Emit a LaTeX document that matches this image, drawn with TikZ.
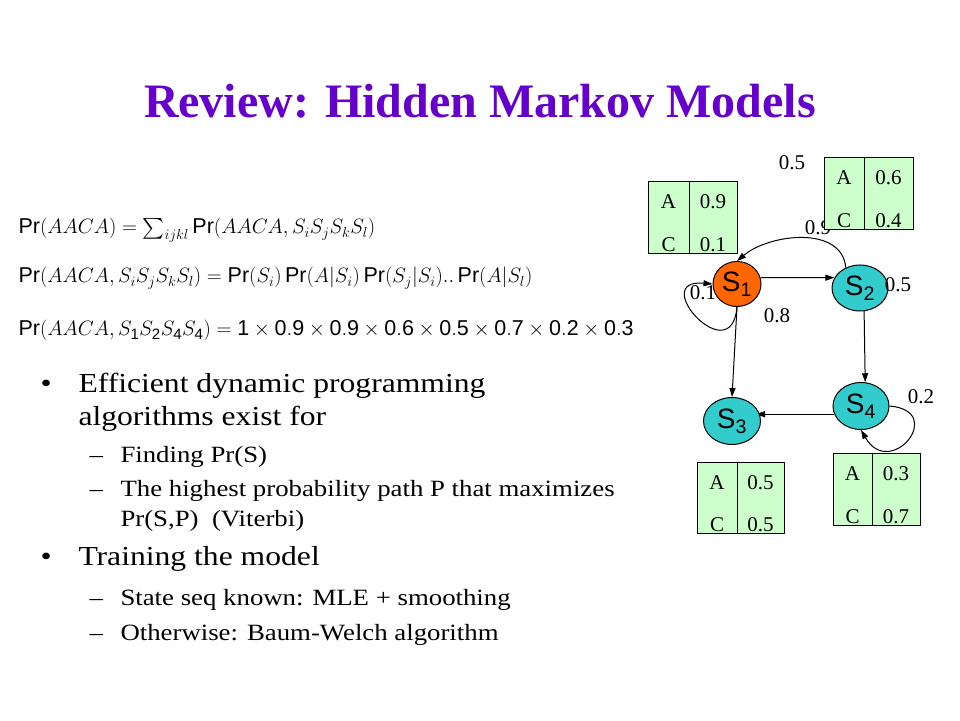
\documentclass[tikz,border=0pt]{standalone}
\usepackage{amsmath}
\usepackage{fontspec}
\setmainfont{Liberation Serif}
\setsansfont{Liberation Sans}
\newfontfamily\bodyfont[FakeStretch=1.15]{Liberation Serif}
\usetikzlibrary{shapes.geometric,backgrounds,arrows.meta}
\definecolor{titlepurple}{HTML}{6600CC}
\definecolor{stateorange}{HTML}{FF6600}
\definecolor{statecyan}{HTML}{33CCCC}
\definecolor{emitgreen}{HTML}{CCFFCC}

\begin{document}
\begin{tikzpicture}[x=1pt, y=1pt, >={Triangle[length=9pt,width=6pt]},
    state/.style={ellipse, draw=black, line width=1pt, inner sep=0pt, font=\sffamily\fontsize{28}{28}\selectfont},
    prob/.style={inner sep=0pt, font=\fontsize{21}{21}\selectfont},
    emission/.style={fill=emitgreen, draw=black, line width=1pt},
    formula/.style={anchor=base west, inner sep=0pt, font=\fontsize{21.5}{24}\selectfont},
    mainitem/.style={anchor=base west, inner sep=0pt, font=\bodyfont\fontsize{27.5}{30}\selectfont},
    subitem/.style={anchor=base west, inner sep=0pt, font=\bodyfont\fontsize{23.3}{26}\selectfont},
    every path/.style={line width=1pt}]
    \path[use as bounding box] (0,0) rectangle (960,720);

    \node[anchor=base, inner sep=0pt, text=titlepurple, font=\bfseries\fontsize{48}{48}\selectfont] (title) at (480,602) {Review: Hidden Markov Models};

    % formulas
    \node[formula] (f1) at (18,486) {$\mathsf{Pr}(AACA) = \sum_{ijkl}\mathsf{Pr}(AACA, S_iS_jS_kS_l)$};
    \node[formula] (f2) at (18,437) {$\mathsf{Pr}(AACA, S_iS_jS_kS_l) = \mathsf{Pr}(S_i)\,\mathsf{Pr}(A|S_i)\,\mathsf{Pr}(S_j|S_i)..\,\mathsf{Pr}(A|S_l)$};
    \node[formula] (f3) at (18,384) {$\mathsf{Pr}(AACA, S_{\mathsf{1}}S_{\mathsf{2}}S_{\mathsf{4}}S_{\mathsf{4}}) = \mathsf{1}\times\mathsf{0.9}\times\mathsf{0.9}\times\mathsf{0.6}\times\mathsf{0.5}\times\mathsf{0.7}\times\mathsf{0.2}\times\mathsf{0.3}$};

    % bullets
    \node[mainitem] (dot1) at (40,327) {\textbullet};
    \node[mainitem] (b1) at (78,327) {Efficient dynamic programming};
    \node[mainitem] (b1x) at (78,294) {algorithms exist for};
    \node[subitem] (dash1) at (89,257) {–};
    \node[subitem] (s1t) at (120,257) {Finding Pr(S)};
    \node[subitem] (dash2) at (89,223) {–};
    \node[subitem] (s2t) at (120,223) {The highest probability path P that maximizes};
    \node[subitem] (s2x) at (120,193) {Pr(S,P) \ (Viterbi)};
    \node[mainitem] (dot2) at (40,154) {\textbullet};
    \node[mainitem] (b2) at (78,154) {Training the model};
    \node[subitem] (dash3) at (89,115) {–};
    \node[subitem] (s3t) at (120,115) {State seq known: MLE + smoothing};
    \node[subitem] (dash4) at (89,80) {–};
    \node[subitem] (s4t) at (120,80) {Otherwise: Baum-Welch algorithm};

    % states
    \node[state, fill=stateorange, minimum width=48, minimum height=45] (s1) at (737,436) {S\textsubscript{1}};
    \node[state, fill=statecyan, minimum width=56, minimum height=46] (s2) at (860,432) {S\textsubscript{2}};
    \node[state, fill=statecyan, minimum width=57, minimum height=47] (s3) at (732,299) {S\textsubscript{3}};
    \node[state, fill=statecyan, minimum width=56, minimum height=47] (s4) at (861,314) {S\textsubscript{4}};

    \begin{scope}[on background layer]
        \fill[white] (0,0) rectangle (960,720);
        \node[prob] (p11) at (703,427) {0.1};
        \path (s1.15) edge[->] (s2.158);
        \path (s2.125) edge[->, out=95, in=40] (s1.north);
        \path (s1.south) edge[->, out=-95, in=175, looseness=5] (s1.west);
        \path (s1.south) edge[->] (s3.north);
        \path (s2.-80) edge[->] (s4.80);
        \path (s4.197) edge[->, shorten >=24pt] (s3.center |- s4.197);
        \path (s4.east) edge[->, out=-5, in=-60, looseness=4] (s4.south);
    \end{scope}

    \node[prob] (p21) at (818,492) {0.9};
    \node[prob] (p0) at (792,557) {0.5};

    % emission tables
    \foreach \nm/\xl/\xm/\xr/\yb/\yt/\pa/\pc in {e1/648/689/737/466/538/0.9/0.1, e2/824/864/913/490/562/0.6/0.4, e3/697/737/784/186/257/0.5/0.5, e4/833/872/920/194/266/0.3/0.7}{
        \draw[emission] (\xl,\yb) rectangle (\xr,\yt);
        \draw (\xm,\yb) -- (\xm,\yt);
        \node[prob] (\nm a) at ({(\xl+\xm)/2},\yt-20) {A};
        \node[prob] (\nm c) at ({(\xl+\xm)/2},\yb+9) {C};
        \node[prob] (\nm pa) at ({(\xm+\xr)/2},\yt-20) {\pa};
        \node[prob] (\nm pc) at ({(\xm+\xr)/2},\yb+9) {\pc};
    }

    \node[prob] (p24) at (898,435) {0.5};
    \node[prob] (p13) at (777,404) {0.8};
    \node[prob] (p44) at (921,323) {0.2};
\end{tikzpicture}
\end{document}
